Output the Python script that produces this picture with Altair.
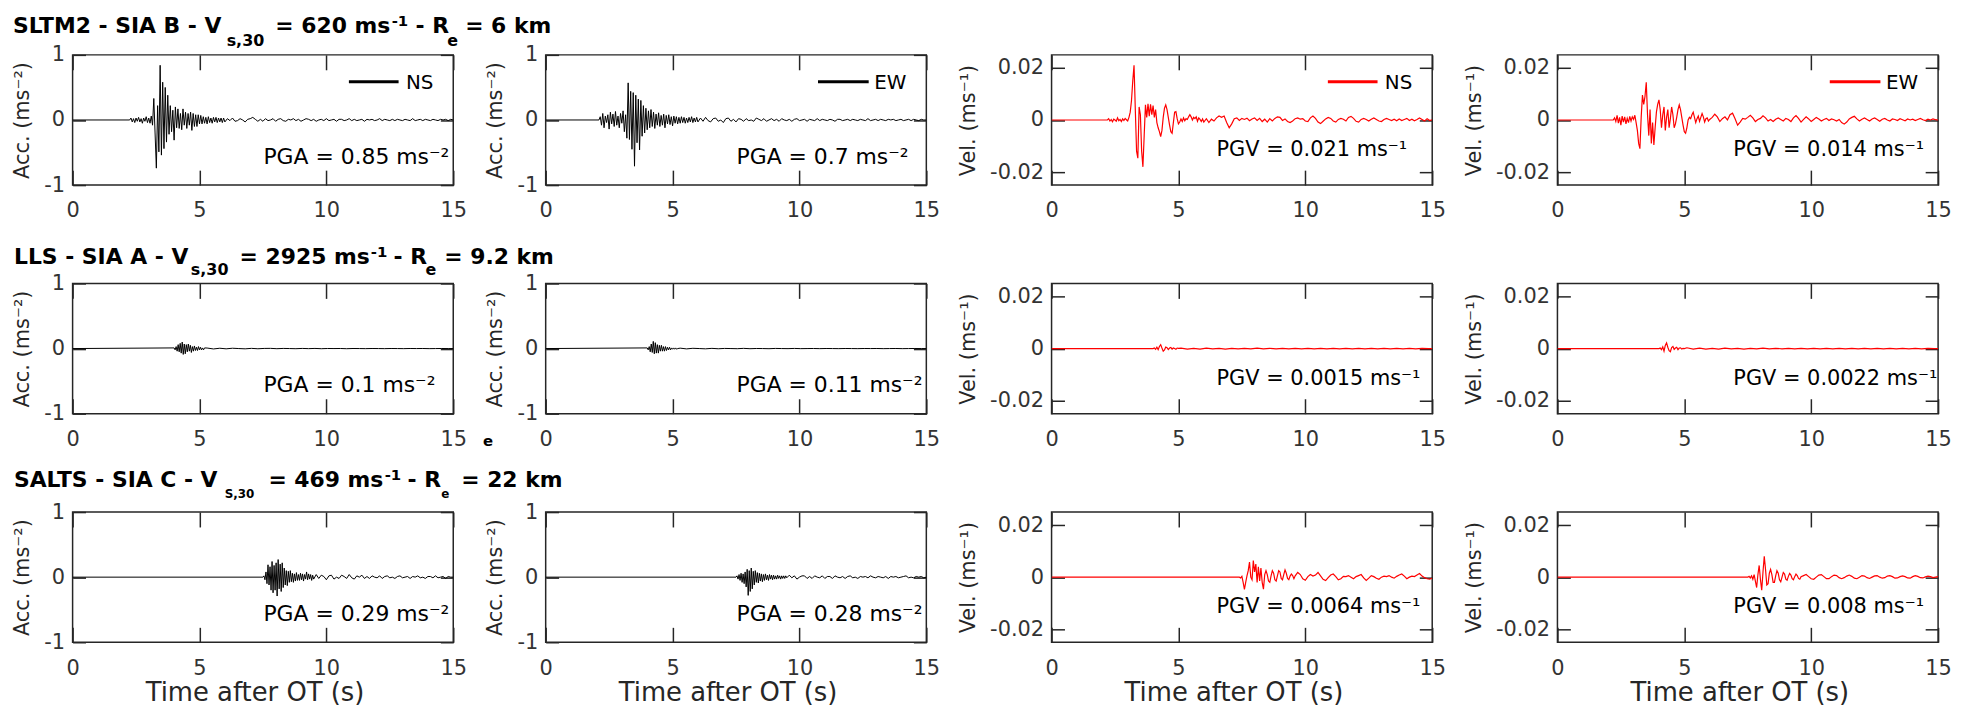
import altair as alt
import pandas as pd

FONT = "DejaVu Sans"
DARK = "#262626"
TICKLAB = "#333333"
BLACK = "#000000"
RED = "#ff0000"

# ---------------- data (time segments: start time, sample step, values) ----------------
# Row 1 : SLTM2
r1c1_main_t0, r1c1_main_dt = 2.25, 0.05
r1c1_main = [0, 0.03, -0.03, 0.02, -0.04, 0.03, -0.02, 0.04, -0.03, 0.02, -0.05, 0.03, -0.02, 0.05, -0.04, 0.03, -0.05, 0.06, -0.08,
             0.33, -0.2, -0.74, 0.22, -0.49, 0.84, -0.54, 0.58, -0.44, 0.50, -0.34, 0.38, -0.22, 0.22, -0.18, 0.15, -0.31, 0.20, -0.12, 0.17,
             -0.13, 0.10, -0.15, 0.17, -0.08, 0.12, -0.13, 0.10, -0.08, 0.12, -0.16, 0.10, -0.10, 0.08, -0.10, 0.08, -0.06, 0.07, -0.06, 0.05,
             -0.05, 0.04, -0.06, 0.05, -0.04, 0.03, -0.05, 0.04, -0.03, 0.04, -0.04, 0.03, -0.03, 0.03, -0.04, 0.03, -0.03]
r1c1_coda_t0, r1c1_coda_dt = 6.1, 0.1
r1c1_coda = [0.02, -0.01, 0.03, -0.02, -0.01, 0.02, 0.0, -0.03, 0.01, 0.02,
             0.04, 0.01, -0.02, 0.01, -0.02, 0.02, -0.01, 0.0, 0.02, -0.02,
             0.01, 0.02, -0.01, -0.02, 0.01, 0.0, 0.02, -0.01, 0.01, -0.02,
             0.0, 0.02, 0.01, -0.01, 0.01, -0.02, 0.0, 0.01, -0.01, 0.02,
             -0.01, 0.0, 0.01, -0.02, 0.01, 0.01, -0.01, 0.0, 0.02, -0.01,
             0.01, -0.01, 0.0, 0.01, -0.02, 0.01, 0.0, 0.01, -0.01, 0.0,
             0.02, -0.01, 0.01, 0.0, -0.01, 0.01, -0.01, 0.01, 0.0, -0.01,
             0.01, 0.0, -0.01, 0.02, -0.01, 0.0, 0.01, -0.01, 0.01, 0.0,
             -0.01, 0.01, 0.0, -0.01, 0.01, 0.0, 0.01, -0.01, 0.01, 0.0]

r1c2_main_t0, r1c2_main_dt = 2.10, 0.05
r1c2_main = [0, 0.05, -0.08, 0.10, -0.12, 0.06, -0.04, 0.08, -0.14, 0.12, -0.06, 0.09, -0.10, 0.13, -0.08, 0.06, -0.12, 0.10, -0.05, 0.14,
             -0.18, 0.08, -0.28, 0.57, -0.30, 0.44, -0.45, 0.42, -0.71, 0.38, -0.35, 0.32, -0.46, 0.30, -0.25, 0.22, -0.20, 0.18, -0.15, 0.14,
             -0.12, 0.16, -0.10, 0.12, -0.13, 0.09, -0.08, 0.11, -0.10, 0.07, -0.08, 0.09, -0.12, 0.07, -0.06, 0.08, -0.07, 0.05, -0.09, 0.06,
             -0.05, 0.05, -0.06, 0.04, -0.05, 0.05, -0.04, 0.04, -0.05, 0.03, -0.04, 0.04, -0.03, 0.05, -0.04, 0.03, -0.03, 0.04, -0.03]
r1c2_coda_t0, r1c2_coda_dt = 6.1, 0.1
r1c2_coda = [0.03, -0.02, 0.04, -0.01, -0.03, 0.02, 0.03, -0.02, 0.0, -0.04,
             0.02, 0.03, -0.02, 0.01, -0.03, 0.02, 0.01, -0.02, 0.02, -0.01,
             0.0, -0.02, 0.03, 0.01, -0.01, 0.02, -0.02, 0.0, 0.02, -0.01,
             0.01, -0.02, 0.02, 0.0, -0.01, 0.01, -0.02, 0.01, 0.02, -0.01,
             0.0, 0.01, -0.02, 0.01, 0.0, -0.01, 0.02, -0.01, 0.01, 0.0,
             -0.01, 0.01, 0.0, -0.02, 0.01, 0.01, -0.01, 0.0, 0.01, -0.01,
             0.01, 0.0, -0.01, 0.01, 0.0, -0.01, 0.02, -0.01, 0.0, 0.01,
             -0.01, 0.01, 0.0, -0.01, 0.01, 0.0, 0.01, -0.01, 0.0, 0.01,
             -0.01, 0.0, 0.01, -0.01, 0.01, 0.0, -0.01, 0.01, 0.0, 0.0]

r1c3_main_t0, r1c3_main_dt = 2.20, 0.05
r1c3_main = [0, 0.0005, -0.0004, 0.0002, -0.0007, 0.0003, 0.0, -0.0005, 0.0008, -0.0003, 0.0002, -0.0006, 0.0004, -0.0002, 0.0006, 0.0001, -0.0004, 0.0010, 0.0030, 0.0075,
             0.0150, 0.0210, 0.0040, -0.0120, -0.0147, 0.0050, 0.0020, -0.0120, -0.0180, -0.0060, 0.0058, 0.0010, 0.0062, 0.0015, 0.0060, 0.0020, 0.0055, 0.0010, 0.0040, -0.0010,
             -0.0030, -0.0045, -0.0064, -0.0040, 0.0010, 0.0045, 0.0058, 0.0040, 0.0010, -0.0020, -0.0045, -0.0051, -0.0010, 0.0030, 0.0032, 0.0005, -0.0015, -0.0008, 0.0004, -0.0006,
             0.0008, -0.0003, 0.0005, 0.0002, 0.0012, 0.0020, 0.0012, 0.0, 0.0010, 0.0005, 0.0012, -0.0005, 0.0008, 0.0002, -0.0006, 0.0004, -0.0008]
r1c3_coda_t0, r1c3_coda_dt = 6.1, 0.1
r1c3_coda = [0.0005, -0.0010, 0.0003, -0.0004, 0.0008, 0.0015, 0.0010, 0.0015, -0.0010, -0.0030,
             -0.0015, 0.0005, 0.0008, -0.0002, 0.0006, 0.0002, 0.0007, -0.0003, 0.0004, 0.0008,
             -0.0002, 0.0006, -0.0006, 0.0003, -0.0008, 0.0005, -0.0004, 0.0006, 0.0012, 0.0010,
             -0.0002, 0.0004, -0.0006, -0.0010, -0.0004, 0.0005, 0.0008, 0.0003, 0.0005, -0.0004,
             -0.0006, 0.0008, 0.0015, 0.0006, -0.0008, -0.0014, -0.0005, 0.0004, 0.0010, 0.0006,
             -0.0004, -0.0008, 0.0002, 0.0006, 0.0003, -0.0004, 0.0010, 0.0014, 0.0006, -0.0005,
             -0.0008, 0.0002, 0.0006, 0.0002, -0.0004, 0.0003, 0.0008, 0.0002, -0.0004, -0.0006,
             0.0002, 0.0006, 0.0002, -0.0002, 0.0003, -0.0003, 0.0004, -0.0002, 0.0002, 0.0006,
             -0.0002, 0.0003, -0.0003, 0.0002, 0.0008, 0.0002, -0.0004, 0.0005, -0.0002, 0.0001]

r1c4_main_t0, r1c4_main_dt = 2.20, 0.05
r1c4_main = [0, 0.0008, -0.0006, 0.0018, -0.0012, 0.0010, -0.0020, 0.0015, -0.0008, 0.0012, -0.0015, 0.0006, -0.0010, 0.0014, -0.0004, 0.0012, 0.0002, 0.0018, -0.0010, -0.0040,
             -0.0090, -0.0110, 0.0010, 0.0096, 0.0060, 0.0090, 0.0145, 0.0020, -0.0060, 0.0040, -0.0090, -0.0010, -0.0096, -0.0030, 0.0030, 0.0060, 0.0077, 0.0040, -0.0030, 0.0020,
             0.0050, -0.0040, 0.0010, 0.0040, -0.0030, 0.0005, 0.0050, 0.0020, -0.0030, -0.0015, 0.0010, 0.0040, 0.0058, 0.0040, 0.0010, -0.0020, -0.0045, -0.0051, -0.0030, 0.0,
             0.0010, 0.0005, 0.0020, 0.0030, 0.0010, -0.0010, 0.0005, 0.0015, -0.0005, 0.0010, 0.0025, 0.0012, -0.0008, 0.0005, 0.0008, -0.0004, 0.0002]
r1c4_coda_t0, r1c4_coda_dt = 6.1, 0.1
r1c4_coda = [0.0010, 0.0022, 0.0012, -0.0006, 0.0005, 0.0012, 0.0000, 0.0020, 0.0026, 0.0005,
             -0.0020, -0.0008, 0.0006, 0.0003, 0.0010, 0.0018, 0.0008, -0.0006, 0.0002, 0.0006,
             0.0016, 0.0008, -0.0004, 0.0002, -0.0006, 0.0003, 0.0008, 0.0002, -0.0004, 0.0006,
             0.0002, -0.0006, 0.0008, 0.0017, 0.0006, -0.0008, 0.0002, 0.0012, 0.0004, -0.0006,
             0.0002, 0.0010, 0.0004, -0.0004, 0.0002, 0.0006, -0.0002, 0.0004, 0.0001, -0.0004,
             0.0002, -0.0010, -0.0016, -0.0008, 0.0004, 0.0010, 0.0014, 0.0004, -0.0004, 0.0003,
             0.0008, 0.0002, -0.0004, 0.0004, 0.0008, 0.0002, -0.0005, 0.0003, 0.0006, 0.0000,
             -0.0004, 0.0004, 0.0002, -0.0002, 0.0005, 0.0001, -0.0003, 0.0004, 0.0000, 0.0003,
             -0.0002, 0.0002, 0.0006, 0.0001, -0.0002, 0.0003, 0.0000, 0.0004, 0.0001, 0.0000]

# Row 2 : LLS
r2c1_main_t0, r2c1_main_dt = 4.0, 0.04
r2c1_main = [0.01, -0.02, 0.03, -0.04, 0.06, -0.05, 0.08, -0.07, 0.1, -0.09, 0.07, -0.08, 0.06, -0.05, 0.07, -0.04, 0.05, -0.06, 0.03, -0.04,
             0.04, -0.03, 0.02, -0.03, 0.03, -0.02, 0.02, -0.02, 0.01, -0.02, 0.01]
r2c1_coda_t0, r2c1_coda_dt = 5.3, 0.25
r2c1_coda = [0.008, -0.006, 0.005, -0.004, 0.005, 0.0, -0.004, 0.003, -0.003, 0.002,
             0.003, -0.002, 0.002, 0.0, -0.002, 0.002, -0.001, 0.002, -0.002, 0.001,
             0.0, 0.001, -0.002, 0.001, 0.0, -0.001, 0.001, 0.0, -0.001, 0.001,
             0.0, -0.001, 0.001, 0.0, 0.001, -0.001, 0.0, 0.001, 0.0]

r2c2_main_t0, r2c2_main_dt = 4.0, 0.04
r2c2_main = [0.01, -0.02, 0.03, -0.05, 0.07, -0.06, 0.11, -0.08, 0.09, -0.07, 0.06, -0.07, 0.05, -0.04, 0.05, -0.04, 0.03, -0.04, 0.03, -0.03,
             0.02, -0.02, 0.02, -0.02, 0.01, -0.01, 0.01, -0.01, 0.01, -0.01, 0.0]
r2c2_coda_t0, r2c2_coda_dt = 5.3, 0.25
r2c2_coda = [0.006, -0.005, 0.004, 0.0, -0.004, 0.003, -0.003, 0.002, 0.0, -0.002,
             0.003, -0.002, 0.001, 0.0, -0.002, 0.002, 0.0, -0.001, 0.002, -0.001,
             0.0, 0.001, -0.001, 0.001, 0.0, -0.001, 0.001, 0.0, -0.001, 0.001,
             0.0, 0.001, -0.001, 0.0, 0.001, -0.001, 0.0, 0.001, 0.0]

r2c3_main_t0, r2c3_main_dt = 4.0, 0.05
r2c3_main = [0, 0.0002, -0.0003, 0.0005, -0.0004, 0.0008, 0.0015, 0.0002, -0.0010, -0.0005, 0.0006, 0.0003, -0.0004, 0.0002, 0.0004, -0.0002, 0.0002, 0.0, -0.0003, 0.0002, 0.0001]
r2c3_coda_t0, r2c3_coda_dt = 5.1, 0.25
r2c3_coda = [0.0002, -0.0002, 0.0001, -0.0002, 0.0002, -0.0001, 0.0001, -0.0002, 0.0001, -0.0001,
             0.0001, -0.0001, 0.0002, -0.0001, 0.0001, -0.0001, 0.0001, -0.0001, 0.0001, -0.0001,
             0.0001, -0.0001, 0.0001, -0.0001, 0.0001, -0.0001, 0.0001, -0.0001, 0.0001, -0.0001,
             0.0001, -0.0001, 0.0001, -0.0001, 0.0001, -0.0001, 0.0001, -0.0001, 0.0001, 0.0]

r2c4_main_t0, r2c4_main_dt = 4.0, 0.05
r2c4_main = [0, 0.0002, -0.0004, 0.0006, -0.0010, 0.0012, 0.0022, 0.0005, -0.0008, -0.0012, 0.0004, 0.0008, -0.0003, 0.0002, 0.0005, -0.0004, 0.0002, 0.0003, -0.0002, 0.0001, 0.0]
r2c4_coda_t0, r2c4_coda_dt = 5.1, 0.25
r2c4_coda = [0.0003, -0.0002, 0.0002, -0.0002, 0.0001, -0.0002, 0.0002, -0.0001, 0.0001, -0.0002,
             0.0001, -0.0001, 0.0002, -0.0001, 0.0001, -0.0001, 0.0001, -0.0001, 0.0001, -0.0001,
             0.0001, -0.0001, 0.0001, -0.0001, 0.0001, -0.0001, 0.0001, -0.0001, 0.0001, -0.0001,
             0.0001, -0.0001, 0.0001, -0.0001, 0.0001, -0.0001, 0.0001, -0.0001, 0.0001, 0.0]

# Row 3 : SALTS
r3c1_main_t0, r3c1_main_dt = 7.5, 0.04
r3c1_main = [0.00, 0.02, -0.04, 0.08, -0.10, 0.19, -0.12, 0.16, -0.20, 0.24, -0.24, 0.18, -0.20, 0.22, -0.29, 0.27, -0.18, 0.20, -0.22, 0.22,
             -0.16, 0.14, -0.12, 0.10, -0.13, 0.09, -0.08, 0.10, -0.07, 0.06, -0.08, 0.05, -0.06, 0.07, -0.05, 0.04, -0.05, 0.06, -0.04, 0.05,
             -0.06, 0.04, -0.03, 0.08, -0.04, 0.05, -0.03, 0.04, -0.05, 0.03, -0.03]
r3c1_coda_t0, r3c1_coda_dt = 9.6, 0.1
r3c1_coda = [0.04, -0.02, 0.03, 0.01, -0.04, 0.02, 0.03, -0.03, 0.0, -0.02,
             0.03, 0.01, -0.02, 0.04, -0.01, -0.03, 0.02, 0.0, 0.03, -0.02,
             0.01, -0.02, 0.02, 0.0, -0.01, 0.02, -0.02, 0.01, 0.02, -0.01,
             0.0, -0.02, 0.01, 0.02, -0.01, 0.0, 0.01, -0.02, 0.01, 0.0,
             0.02, -0.01, 0.0, -0.02, 0.01, 0.01, -0.01, 0.02, -0.01, 0.0,
             0.01, -0.02, 0.01, 0.0, 0.0]

r3c2_main_t0, r3c2_main_dt = 7.5, 0.04
r3c2_main = [0, 0.02, -0.03, 0.04, -0.05, 0.06, -0.08, 0.05, -0.10, 0.08, -0.15, 0.12, -0.28, 0.10, -0.22, 0.14, -0.18, 0.09, -0.12, 0.10,
             -0.08, 0.07, -0.09, 0.06, -0.06, 0.05, -0.07, 0.04, -0.05, 0.05, -0.04, 0.03, -0.05, 0.04, -0.03, 0.03, -0.04, 0.03, -0.03, 0.02,
             -0.03, 0.03, -0.02, 0.02, -0.03, 0.02, -0.02, 0.02, -0.02, 0.02, -0.01]
r3c2_coda_t0, r3c2_coda_dt = 9.6, 0.1
r3c2_coda = [0.03, -0.01, 0.02, -0.03, 0.0, 0.02, 0.02, -0.02, 0.01, -0.02,
             0.02, 0.0, -0.01, 0.02, -0.02, 0.01, 0.01, -0.02, 0.02, 0.0,
             -0.01, 0.01, -0.02, 0.01, 0.02, -0.01, 0.0, -0.02, 0.01, 0.0,
             0.01, -0.01, 0.02, 0.0, -0.01, 0.01, 0.0, -0.01, 0.01, -0.02,
             0.01, 0.0, 0.01, -0.01, 0.0, 0.01, 0.02, -0.01, 0.0, -0.01,
             0.01, 0.0, 0.01, -0.01, 0.0]

r3c3_main_t0, r3c3_main_dt = 7.4, 0.05
r3c3_main = [0, -0.0003, 0.0003, -0.0020, -0.0047, -0.0020, 0.0005, 0.0025, 0.0058, 0.0000,
             -0.0010, 0.0064, 0.0020, 0.0050, -0.0020, 0.0040, -0.0015, 0.0035, -0.0020, -0.0046,
             0.0010, 0.0025, 0.0010, -0.0015, -0.0020, 0.0005, 0.0025, 0.0015, -0.0010, -0.0015,
             0.0005, 0.0025, 0.0020, -0.0005, -0.0010, 0.0010, 0.0028, 0.0015, -0.0005, -0.0010,
             0.0004, 0.0012, 0.0006, -0.0006, 0.0005]
r3c3_coda_t0, r3c3_coda_dt = 9.7, 0.1
r3c3_coda = [0.0018, 0.0010, -0.0006, -0.0012, 0.0002, 0.0010, 0.0004, 0.0008, 0.0018, 0.0005,
             -0.0008, -0.0013, -0.0002, 0.0008, 0.0012, 0.0002, -0.0010, -0.0006, 0.0003, 0.0002,
             0.0006, 0.0000, -0.0006, 0.0002, 0.0006, 0.0010, -0.0003, -0.0013, -0.0004, 0.0006,
             0.0002, -0.0004, -0.0008, 0.0000, 0.0004, 0.0002, 0.0006, 0.0000, -0.0004, 0.0003,
             0.0008, 0.0012, 0.0004, -0.0006, 0.0000, 0.0004, 0.0002, 0.0008, 0.0014, 0.0004,
             -0.0002, -0.0006, -0.0008, -0.0004]

r3c4_main_t0, r3c4_main_dt = 7.5, 0.05
r3c4_main = [0, 0.0003, -0.0003, 0.0005, -0.0008, 0.0010, -0.0015, -0.0040, 0.0010, 0.0045,
             -0.0010, -0.0050, 0.0020, 0.0080, 0.0030, -0.0030, -0.0025, 0.0015, 0.0030, 0.0010,
             -0.0020, -0.0020, 0.0005, 0.0025, 0.0015, -0.0010, -0.0018, 0.0000, 0.0018, 0.0012,
             -0.0008, -0.0012, 0.0003, 0.0014, 0.0008, -0.0006, -0.0010, 0.0002, 0.0012, 0.0006,
             -0.0005, -0.0008, 0.0002]
r3c4_coda_t0, r3c4_coda_dt = 9.7, 0.1
r3c4_coda = [0.0006, 0.0010, 0.0002, -0.0006, -0.0008, 0.0000, 0.0008, 0.0010, 0.0002, -0.0006,
             -0.0006, 0.0002, 0.0008, 0.0006, -0.0002, -0.0006, -0.0002, 0.0004, 0.0008, 0.0003,
             -0.0004, -0.0006, 0.0000, 0.0006, 0.0004, -0.0002, -0.0005, 0.0000, 0.0005, 0.0006,
             0.0000, -0.0004, -0.0002, 0.0004, 0.0006, 0.0002, -0.0004, -0.0003, 0.0002, 0.0005,
             0.0002, -0.0003, -0.0004, 0.0002, 0.0006, 0.0003, -0.0002, -0.0003, 0.0001, 0.0004,
             0.0002, -0.0002, 0.0000, 0.0002]

# annotation texts
pga_pgv = [["PGA = 0.85 ms⁻²", "PGA = 0.7 ms⁻²", "PGV = 0.021 ms⁻¹", "PGV = 0.014 ms⁻¹"],
           ["PGA = 0.1 ms⁻²", "PGA = 0.11 ms⁻²", "PGV = 0.0015 ms⁻¹", "PGV = 0.0022 ms⁻¹"],
           ["PGA = 0.29 ms⁻²", "PGA = 0.28 ms⁻²", "PGV = 0.0064 ms⁻¹", "PGV = 0.008 ms⁻¹"]]
components = ["NS", "EW", "NS", "EW"]
kinds = ["acc", "acc", "vel", "vel"]
x_ticks = [0, 5, 10, 15]
acc_ticks = [-1, 0, 1]
vel_ticks = [-0.02, 0, 0.02]

# row titles: pieces (text, x, y, size) relative to first panel's plot origin
row_titles = [
    [("SLTM2 - SIA B - V", -60, -22, 22), ("s,30", 155, -9, 16), ("= 620 ms", 204, -22, 22),
     ("-1", 321, -29, 15), ("- R", 345, -22, 22), ("e", 377, -9, 16), ("= 6 km", 395, -22, 22)],
    [("LLS - SIA A - V", -59, -20, 22), ("s,30", 119, -9, 16), ("= 2925 ms", 168, -20, 22),
     ("-1", 300, -27, 15), ("- R", 323, -20, 22), ("e", 355, -9, 16), ("= 9.2 km", 374, -20, 22)],
    [("SALTS - SIA C - V", -59, -25, 22), ("S,30", 153, -14, 12), ("= 469 ms", 197, -25, 22),
     ("-1", 314, -32, 15), ("- R", 337, -25, 22), ("e", 371, -14, 12), ("= 22 km", 391, -25, 22)],
]

W, H = 383, 131
one = pd.DataFrame({"a": [0]})


def build(segments):
    ts, vs = [0.0], [0.0]
    for t0, dt, vals in segments:
        for i, v in enumerate(vals):
            ts.append(round(t0 + i * dt, 4))
            vs.append(v)
    if ts[-1] < 15:
        ts.append(15.0)
        vs.append(0.0)
    return pd.DataFrame({"t": ts, "v": vs})


traces = [
    [build([(r1c1_main_t0, r1c1_main_dt, r1c1_main), (r1c1_coda_t0, r1c1_coda_dt, r1c1_coda)]),
     build([(r1c2_main_t0, r1c2_main_dt, r1c2_main), (r1c2_coda_t0, r1c2_coda_dt, r1c2_coda)]),
     build([(r1c3_main_t0, r1c3_main_dt, r1c3_main), (r1c3_coda_t0, r1c3_coda_dt, r1c3_coda)]),
     build([(r1c4_main_t0, r1c4_main_dt, r1c4_main), (r1c4_coda_t0, r1c4_coda_dt, r1c4_coda)])],
    [build([(r2c1_main_t0, r2c1_main_dt, r2c1_main), (r2c1_coda_t0, r2c1_coda_dt, r2c1_coda)]),
     build([(r2c2_main_t0, r2c2_main_dt, r2c2_main), (r2c2_coda_t0, r2c2_coda_dt, r2c2_coda)]),
     build([(r2c3_main_t0, r2c3_main_dt, r2c3_main), (r2c3_coda_t0, r2c3_coda_dt, r2c3_coda)]),
     build([(r2c4_main_t0, r2c4_main_dt, r2c4_main), (r2c4_coda_t0, r2c4_coda_dt, r2c4_coda)])],
    [build([(r3c1_main_t0, r3c1_main_dt, r3c1_main), (r3c1_coda_t0, r3c1_coda_dt, r3c1_coda)]),
     build([(r3c2_main_t0, r3c2_main_dt, r3c2_main), (r3c2_coda_t0, r3c2_coda_dt, r3c2_coda)]),
     build([(r3c3_main_t0, r3c3_main_dt, r3c3_main), (r3c3_coda_t0, r3c3_coda_dt, r3c3_coda)]),
     build([(r3c4_main_t0, r3c4_main_dt, r3c4_main), (r3c4_coda_t0, r3c4_coda_dt, r3c4_coda)])],
]


def tx(s, x, y, size, weight="normal", align="left", baseline="alphabetic", angle=0, color=DARK):
    kw = dict(text=s, font=FONT, fontSize=size, fontWeight=weight, align=align,
              baseline=baseline, color=color)
    if angle:
        kw["angle"] = angle
    return alt.Chart(one).mark_text(**kw).encode(x=alt.value(x), y=alt.value(y))


AX = dict(domain=False, grid=False, tickColor=DARK, tickWidth=1.5, labelFont=FONT,
          labelFontSize=21, labelColor=TICKLAB, title=None)


def panel(r, c):
    kind = kinds[c]
    df = traces[r][c]
    if kind == "acc":
        dom, yt, color, sw, ytitle, ytx = [-1, 1], acc_ticks, BLACK, 1.0, "Acc. (ms⁻²)", -44
    else:
        dom, yt, color, sw, ytitle, ytx = [-0.025, 0.025], vel_ticks, RED, 1.2, "Vel. (ms⁻¹)", -77
    xs = alt.Scale(domain=[0, 15], nice=False, zero=False)
    ys = alt.Scale(domain=dom, nice=False, zero=False)
    line = alt.Chart(df).mark_line(color=color, strokeWidth=sw, clip=True).encode(
        x=alt.X("t:Q", scale=xs, axis=alt.Axis(orient="bottom", values=x_ticks, offset=-15, tickSize=15,
                                                labelPadding=15, labelFlush=False, labelOverlap=False,
                                                labelExpr="toString(datum.value)", **AX)),
        y=alt.Y("v:Q", scale=ys, axis=alt.Axis(orient="left", values=yt, offset=-13, tickSize=13,
                                                labelPadding=8, labelOverlap=False,
                                                labelExpr="toString(datum.value)", **AX)),
    )
    frame = alt.Chart(pd.DataFrame({"t": [0.0], "v": [0.0]})).mark_point(opacity=0).encode(
        x=alt.X("t:Q", scale=xs, axis=alt.Axis(orient="top", values=x_ticks, offset=-15, tickSize=15,
                                                labels=False, **AX)),
        y=alt.Y("v:Q", scale=ys, axis=alt.Axis(orient="right", values=yt, offset=-13, tickSize=13,
                                                labels=False, **AX)),
    )
    layers = [line, frame]
    # y-axis title
    layers.append(tx(ytitle, ytx, 66, 21, align="center", angle=270, color=DARK))
    # PGA / PGV annotation
    if kind == "acc":
        layers.append(tx(pga_pgv[r][c], 192, 109.5, 22, color=BLACK))
    else:
        layers.append(tx(pga_pgv[r][c], 166 if c == 2 else 177, 102, 21, color=BLACK))
    # legend in the first row
    if r == 0:
        x1, x2 = (278, 328) if components[c] == "NS" else (274, 325)
        layers.append(alt.Chart(one).mark_rule(color=color, strokeWidth=3).encode(
            x=alt.value(x1), x2=alt.value(x2), y=alt.value(27)))
        layers.append(tx(components[c], 363, 34, 20, align="right", color=BLACK))
    # x-axis title in the last row
    if r == 2:
        layers.append(tx("Time after OT (s)", 183.5, 190, 26, align="center", color=DARK))
    # row title on the first panel of each row
    if c == 0:
        for s, x, y, size in row_titles[r]:
            layers.append(tx(s, x, y, size, weight="bold", color=BLACK))
        if r == 0:
            layers.append(alt.Chart(one).mark_rule(strokeOpacity=0, strokeWidth=0).encode(
                x=alt.value(-64), x2=alt.value(-63), y=alt.value(-44), y2=alt.value(-44)))
        if r == 1:
            layers.append(tx("e", 413, 164, 15, weight="bold", color=BLACK))
    return alt.layer(*layers).resolve_axis(x="independent", y="independent").properties(width=W, height=H)


def spacer(w):
    return alt.Chart(one).mark_point(opacity=0).encode(x=alt.value(0), y=alt.value(0)).properties(
        width=w, height=H, view=alt.ViewBackground(strokeOpacity=0))


cells = []
gaps = [93, 126, 126]
for r in range(3):
    for c in range(4):
        cells.append(panel(r, c))
        if c < 3:
            cells.append(spacer(gaps[c]))

chart = alt.concat(*cells, columns=7, spacing={"row": 99, "column": 0}, bounds="flush", align="each").properties(
    padding=0
).configure_view(stroke=DARK, strokeWidth=1.5)

chart.save("out.html", embed_options={"renderer": "svg", "actions": False})
